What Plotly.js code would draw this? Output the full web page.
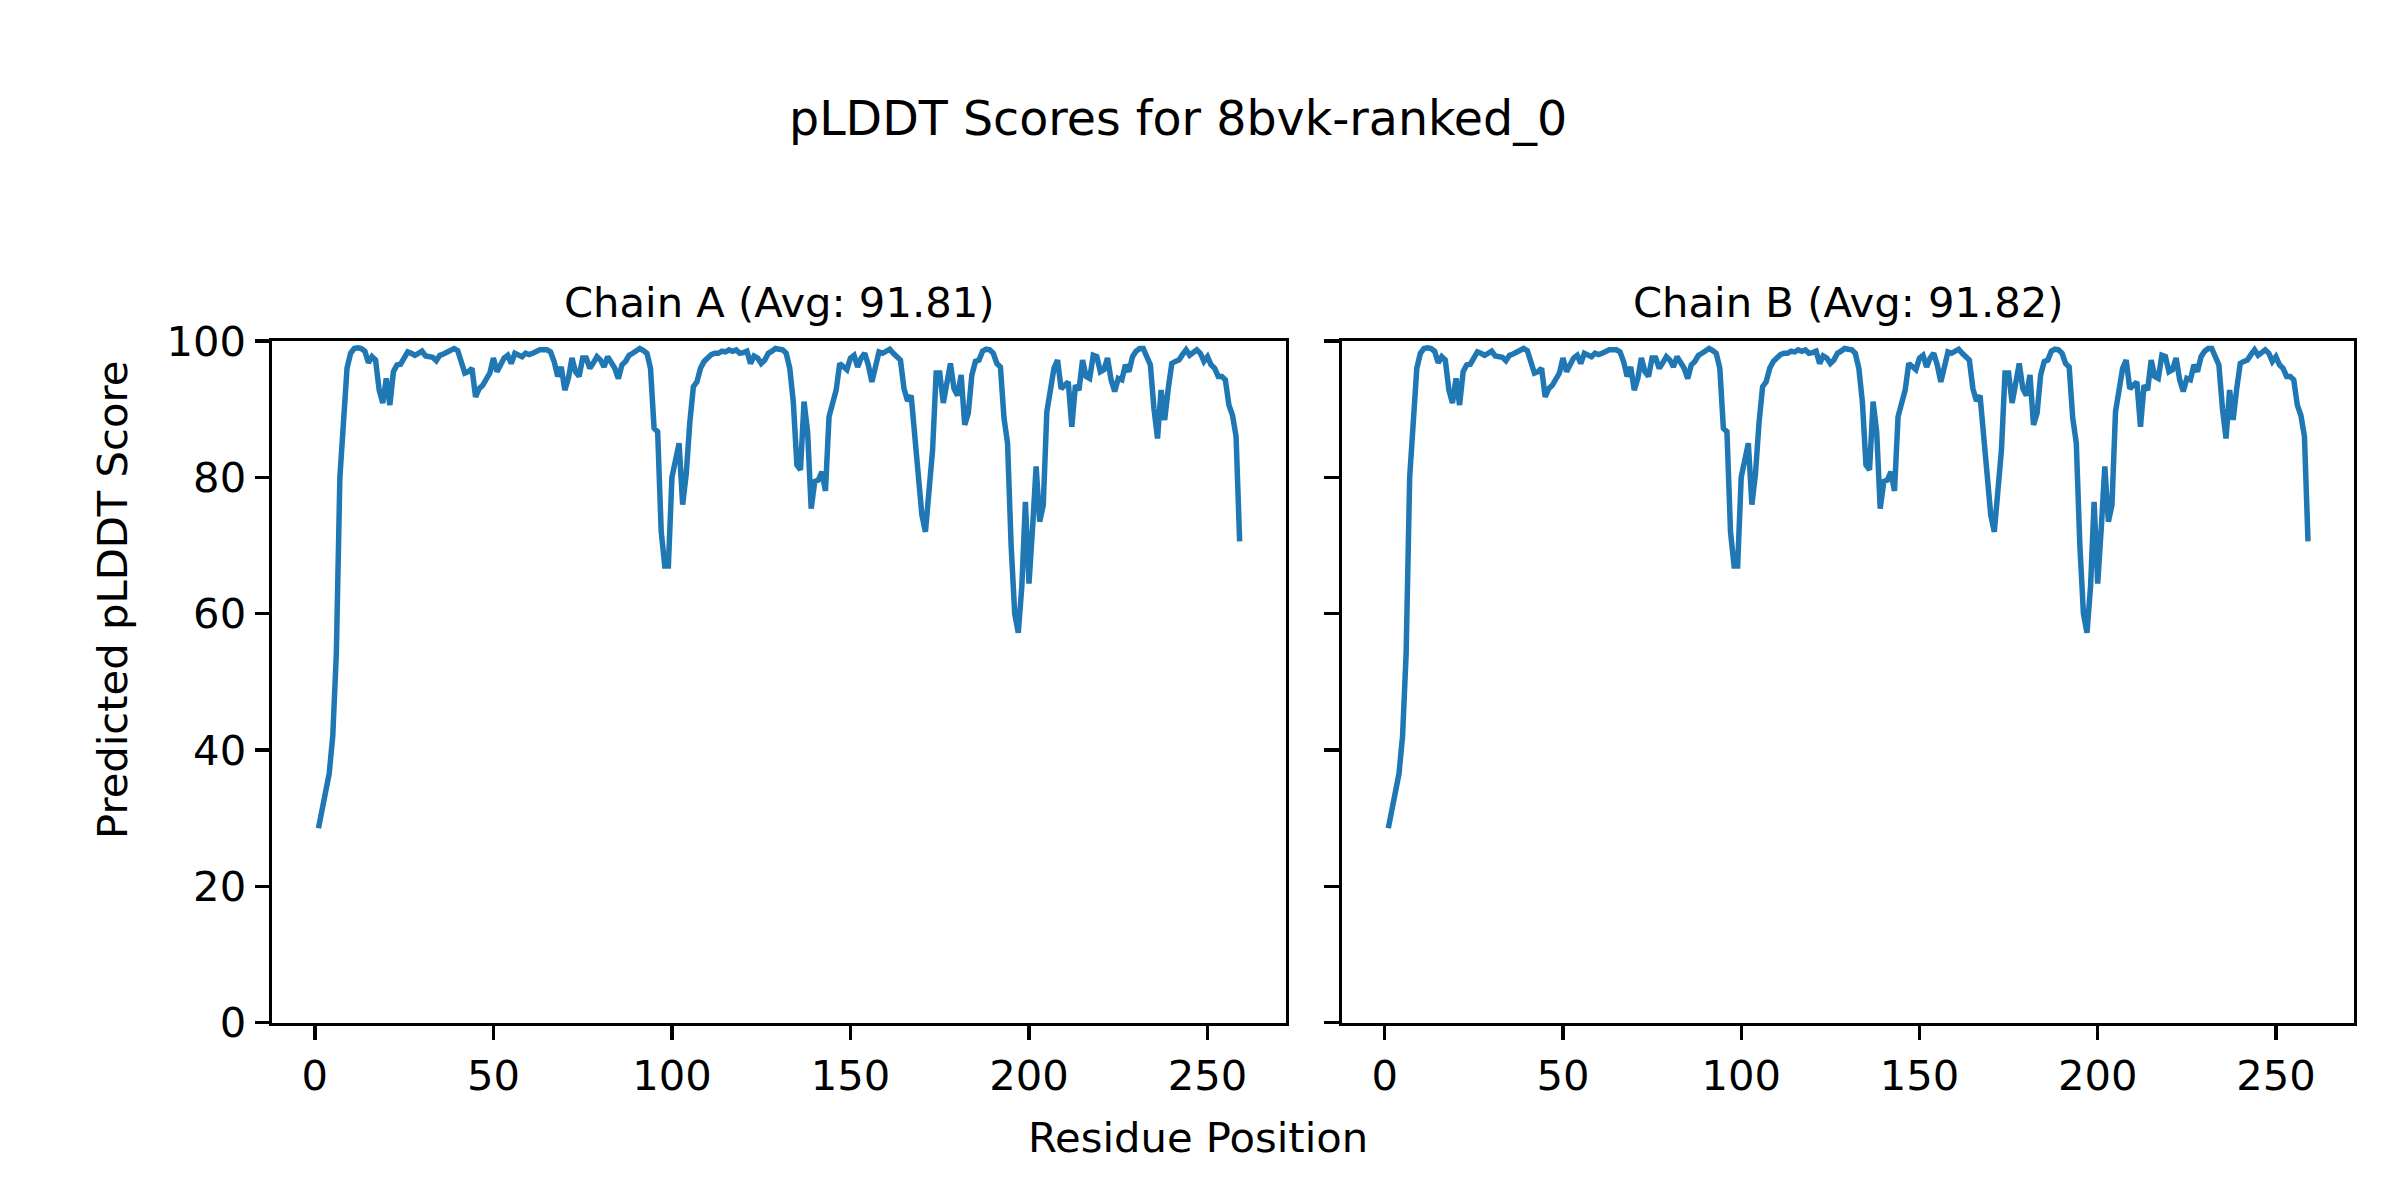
<!DOCTYPE html>
<html>
<head>
<meta charset="utf-8">
<script src="https://cdn.plot.ly/plotly-3.0.1.min.js"></script>
<style>html,body{margin:0;padding:0;background:#fff;}#chart{width:2400px;height:1200px;}</style>
</head>
<body>
<div id="chart"></div>
<script>
// pLDDT score per residue (residue 1 .. 259)
const chainAScores = [
  28.5, 31.5, 33.5, 36.5, 42, 54, 80, 89, 96, 98.2,
  98.9, 99, 98.9, 98.5, 96.8, 97.7, 97.2, 92.8, 90.9, 94.5,
  90.6, 95.5, 96.5, 96.6, 97.5, 98.4, 98.2, 97.9, 98.2, 98.5,
  97.8, 97.6, 97.6, 97.1, 97.9, 98.1, 98.4, 98.8, 98.9, 98.6,
  97, 95.3, 95.5, 96, 91.8, 93, 93.5, 94.5, 95.3, 97.5,
  95.5, 96.5, 97.5, 97.9, 96.7, 98.2, 97.9, 97.7, 98.2, 98,
  98.2, 98.5, 98.7, 98.7, 98.7, 98.4, 97, 94.8, 96.2, 92.8,
  94.5, 97.5, 95.5, 94.8, 97.5, 97.5, 96, 96.8, 97.7, 97.2,
  96.2, 97.7, 96.7, 96, 94.5, 96.5, 97, 97.9, 98.2, 98.6,
  98.9, 98.6, 98.2, 96, 87.2, 86.7, 72, 67, 67, 80,
  83, 85, 76, 80.5, 88, 93.3, 94, 96, 97, 97.5,
  98, 98.2, 98.2, 98.5, 98.4, 98.7, 98.5, 98.7, 98.2, 98.3,
  98.5, 96.7, 97.8, 97.5, 96.7, 97.2, 98.2, 98.5, 98.9, 98.8,
  98.7, 98.2, 96, 91, 81.8, 81.1, 91.1, 86.7, 75.4, 79.4,
  79.6, 80.8, 78, 88.9, 91.3, 92.8, 96.7, 96.2, 95.8, 97.5,
  97.9, 96.2, 97.5, 98.2, 96.5, 94, 96.5, 98.4, 98.2, 98.5,
  98.8, 98.2, 97.8, 97.2, 93, 91.2, 92, 86.2, 79, 74.5,
  72, 78, 84, 95.3, 95.3, 90.9, 94.5, 96.7, 93, 92,
  95, 87.7, 89.4, 95, 97, 97.2, 98.5, 98.8, 98.7, 98.2,
  96.7, 96.2, 88.7, 85, 70, 60, 57.2, 64, 76.4, 64.4,
  72.5, 81.6, 73.5, 75.9, 89.6, 93.3, 96, 97.2, 93, 93.5,
  94, 87.4, 93.5, 92.8, 97.2, 94.8, 94.5, 97.9, 97.7, 95.5,
  95.8, 97.5, 94.3, 92.6, 94.5, 94.3, 96.5, 95.5, 97.7, 98.5,
  98.9, 98.9, 97.7, 96.5, 90.1, 85.7, 92.8, 88.4, 93, 96.7,
  97, 97.2, 98, 98.7, 97.9, 98.3, 98.7, 98.2, 97, 97.7,
  96.5, 96, 94.8, 94.8, 94.3, 90.6, 89.1, 86, 70.6
];
// Chain B reads identically to chain A in the picture
const chainBScores = chainAScores.slice();

const chainNames = ["Chain A", "Chain B"];
const chainAverages = ["91.81", "91.82"];
const xTickValues = [0, 50, 100, 150, 200, 250];
const yTickValues = [0, 20, 40, 60, 80, 100];
const figureTitle = "pLDDT Scores for 8bvk-ranked_0";
const xLabel = "Residue Position";
const yLabel = "Predicted pLDDT Score";

const residuesA = chainAScores.map((_, i) => i + 1);
const residuesB = chainBScores.map((_, i) => i + 1);

const W = 2400, H = 1200;
const font = "DejaVu Sans, Liberation Sans, sans-serif";
const lineColor = "#1f77b4";
const tickFontSize = 41.7;

const xDomA = [272.4 / W, 1285.7 / W];
const xDomB = [1342.3 / W, 2354 / W];
const yDom = [1 - 1022.5 / H, 1 - 341 / H];

function xaxisCfg(domain, anchor) {
  return {
    domain: domain, anchor: anchor,
    range: [-11.9, 271.9],
    tickvals: xTickValues,
    ticktext: xTickValues.map(String),
    ticks: "outside", ticklen: 14.6, tickwidth: 3.3, tickcolor: "#000",
    showline: true, mirror: true, linecolor: "#000", linewidth: 3.3,
    showgrid: false, zeroline: false,
    tickfont: {family: font, size: tickFontSize, color: "#000"},
    fixedrange: true
  };
}
function yaxisCfg(anchor, showLabels) {
  return {
    domain: yDom, anchor: anchor,
    range: [0, 100],
    tickvals: yTickValues,
    ticktext: yTickValues.map(String),
    showticklabels: showLabels,
    ticks: "outside", ticklen: 14.6, tickwidth: 3.3, tickcolor: "#000",
    showline: true, mirror: true, linecolor: "#000", linewidth: 3.3,
    showgrid: false, zeroline: false,
    tickfont: {family: font, size: tickFontSize, color: "#000"},
    fixedrange: true
  };
}

const traces = [
  {x: residuesA, y: chainAScores, xaxis: "x", yaxis: "y", type: "scatter", mode: "lines",
   line: {color: lineColor, width: 5.5}, hoverinfo: "skip", showlegend: false},
  {x: residuesB, y: chainBScores, xaxis: "x2", yaxis: "y2", type: "scatter", mode: "lines",
   line: {color: lineColor, width: 5.5}, hoverinfo: "skip", showlegend: false}
];

const layout = {
  width: W, height: H,
  paper_bgcolor: "#fff", plot_bgcolor: "#fff",
  margin: {l: 0, r: 0, t: 0, b: 0},
  showlegend: false,
  font: {family: font, color: "#000"},
  xaxis: xaxisCfg(xDomA, "y"),
  yaxis: yaxisCfg("x", true),
  xaxis2: xaxisCfg(xDomB, "y2"),
  yaxis2: yaxisCfg("x2", false),
  annotations: [
    {text: figureTitle, xref: "paper", yref: "paper", x: 1178 / W, y: 1 - 118 / H,
     xanchor: "center", yanchor: "middle", showarrow: false, font: {family: font, size: 47.5, color: "#000"}},
    {text: chainNames[0] + " (Avg: " + chainAverages[0] + ")", xref: "paper", yref: "paper",
     x: (xDomA[0] + xDomA[1]) / 2, y: 1 - 302 / H, xanchor: "center", yanchor: "middle",
     showarrow: false, font: {family: font, size: 41.7, color: "#000"}},
    {text: chainNames[1] + " (Avg: " + chainAverages[1] + ")", xref: "paper", yref: "paper",
     x: (xDomB[0] + xDomB[1]) / 2, y: 1 - 302 / H, xanchor: "center", yanchor: "middle",
     showarrow: false, font: {family: font, size: 41.7, color: "#000"}},
    {text: xLabel, xref: "paper", yref: "paper", x: 1198 / W, y: 1 - 1137 / H,
     xanchor: "center", yanchor: "middle", showarrow: false, font: {family: font, size: 41.7, color: "#000"}},
    {text: yLabel, xref: "paper", yref: "paper", x: 112 / W, y: 1 - 600 / H, textangle: -90,
     xanchor: "center", yanchor: "middle", showarrow: false, font: {family: font, size: 41.7, color: "#000"}}
  ]
};

Plotly.newPlot("chart", traces, layout, {displayModeBar: false, staticPlot: true});
</script>
</body>
</html>
